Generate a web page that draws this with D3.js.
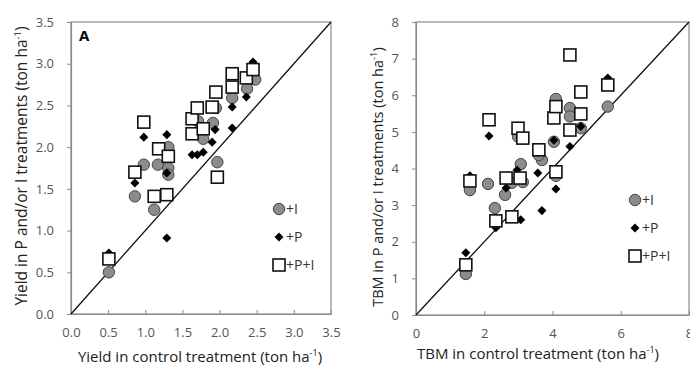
<!DOCTYPE html>
<html>
<head>
<meta charset="utf-8">
<script src="https://cdn.jsdelivr.net/npm/d3@7"></script>
<style>
  body { margin: 0; background: #fff; }
  svg { display: block; font-family: "Open Sans", sans-serif; }
</style>
</head>
<body>
<div id="chart"></div>
<script>
// Panel A: yield, [control, treatment]
const yieldI = [
  [0.51, 0.50], [0.86, 1.41], [0.98, 1.79], [1.12, 1.25], [1.17, 1.79], [1.31, 1.75],
  [1.31, 1.67], [1.31, 2.00], [1.71, 2.31], [1.78, 2.10], [1.91, 2.29], [1.95, 2.47],
  [1.97, 1.82], [2.17, 2.59], [2.37, 2.70], [2.48, 2.81]
];
const yieldP = [
  [0.51, 0.73], [0.86, 1.57], [0.98, 2.12], [1.29, 2.15], [1.29, 1.69], [1.29, 0.91],
  [1.63, 1.91], [1.70, 1.91], [1.78, 1.94], [1.90, 2.06], [1.94, 2.21], [2.17, 2.23],
  [2.17, 2.48], [2.36, 2.60], [2.45, 3.02]
];
const yieldPI = [
  [0.51, 0.66], [0.86, 1.70], [0.98, 2.30], [1.12, 1.41], [1.18, 1.98], [1.29, 1.43],
  [1.31, 1.89], [1.63, 2.34], [1.63, 2.16], [1.70, 2.47], [1.78, 2.22], [1.90, 2.48],
  [1.95, 2.66], [1.97, 1.64], [2.17, 2.88], [2.17, 2.72], [2.36, 2.83], [2.45, 2.93]
];

// Panel B: total biomass (TBM)
const tbmI = [
  [1.46, 1.12], [1.58, 3.41], [2.11, 3.58], [2.31, 2.92], [2.61, 3.28], [2.81, 3.61],
  [3.13, 3.63], [3.07, 4.12], [2.99, 4.87], [3.69, 4.23], [3.60, 4.37], [4.04, 4.73],
  [4.10, 3.80], [4.10, 5.90], [4.51, 5.65], [4.51, 5.42], [4.83, 5.10], [5.62, 5.69]
];
const tbmP = [
  [1.46, 1.70], [1.58, 3.80], [2.14, 4.89], [2.34, 2.38], [2.64, 3.47], [2.96, 3.96],
  [3.07, 2.60], [3.57, 3.88], [3.69, 2.85], [4.10, 3.44], [4.04, 4.77], [4.51, 4.60],
  [4.83, 5.15], [5.62, 6.47]
];
const tbmPI = [
  [1.46, 1.37], [1.58, 3.66], [2.14, 5.33], [2.34, 2.57], [2.64, 3.74], [2.81, 2.68],
  [2.99, 5.10], [3.05, 3.74], [3.13, 4.83], [3.60, 4.51], [4.10, 3.91], [4.04, 5.38],
  [4.10, 5.69], [4.51, 7.10], [4.51, 5.05], [4.83, 6.09], [4.83, 5.49], [5.62, 6.28]
];

const yieldTicks = [0, 0.5, 1, 1.5, 2, 2.5, 3, 3.5];
const tbmXTicks = [0, 2, 4, 6, 8];
const tbmYTicks = [0, 1, 2, 3, 4, 5, 6, 7, 8];
const legendLabels = ['+I', '+P', '+P+I'];

const W = 690, H = 366;
const svg = d3.select('#chart').append('svg').attr('width', W).attr('height', H);

function drawPanel(o) {
  const x = d3.scaleLinear().domain(o.domain).range([o.left, o.right]);
  const y = d3.scaleLinear().domain(o.domain).range([o.bottom, o.top]);
  const g = svg.append('g');

  // plot box
  g.append('rect')
   .attr('x', o.left).attr('y', o.top)
   .attr('width', o.right - o.left).attr('height', o.bottom - o.top)
   .attr('fill', 'none').attr('stroke', '#8a8a8a').attr('stroke-width', 1.2);

  const xAxis = g.append('g')
    .attr('transform', `translate(0,${o.bottom})`)
    .call(d3.axisBottom(x).tickValues(o.xTicks).tickFormat(o.fmt).tickSize(-4).tickPadding(14).tickSizeOuter(0));
  const yAxis = g.append('g')
    .attr('transform', `translate(${o.left},0)`)
    .call(d3.axisLeft(y).tickValues(o.yTicks).tickFormat(o.fmt).tickSize(4).tickPadding(13).tickSizeOuter(0));
  [xAxis, yAxis].forEach(a => {
    a.select('.domain').attr('stroke', '#8a8a8a').attr('stroke-width', 1.2);
    a.selectAll('line').attr('stroke', '#8a8a8a');
    a.selectAll('text').attr('fill', '#555').style('font-size', '13px').style('font-family', '"Open Sans", sans-serif');
  });

  // 1:1 line
  g.append('line')
   .attr('x1', x(0)).attr('y1', y(0))
   .attr('x2', x(o.domain[1])).attr('y2', y(o.domain[1]))
   .attr('stroke', '#111').attr('stroke-width', 1.3);

  const plot = g.append('g');
  plot.selectAll('circle').data(o.sI).join('circle')
    .attr('cx', d => x(d[0])).attr('cy', d => y(d[1])).attr('r', 5.7)
    .attr('fill', '#8c8c8c').attr('stroke', '#444').attr('stroke-width', 1);
  const dia = d3.symbol().type(d3.symbolDiamond2).size(52);
  plot.selectAll('path.dia').data(o.sP).join('path').attr('class', 'dia')
    .attr('d', dia).attr('transform', d => `translate(${x(d[0])},${y(d[1])})`)
    .attr('fill', '#000');
  plot.selectAll('rect').data(o.sPI).join('rect')
    .attr('x', d => x(d[0]) - 6).attr('y', d => y(d[1]) - 6)
    .attr('width', 12).attr('height', 12)
    .attr('fill', '#fff').attr('stroke', '#111').attr('stroke-width', 1.6);

  // legend
  const lg = g.append('g').attr('transform', `translate(${o.legend[0]},${o.legend[1]})`);
  lg.append('circle').attr('cx', 0).attr('cy', 0).attr('r', 5.7)
    .attr('fill', '#8c8c8c').attr('stroke', '#444');
  lg.append('path').attr('d', dia).attr('transform', 'translate(0,28)').attr('fill', '#000');
  lg.append('rect').attr('x', -6).attr('y', 50).attr('width', 12).attr('height', 12)
    .attr('fill', '#fff').attr('stroke', '#111').attr('stroke-width', 1.6);
  lg.selectAll('text').data(legendLabels).join('text')
    .attr('x', 7).attr('y', (d, i) => i * 28 + 5)
    .attr('fill', '#333').style('font-size', '14px')
    .text(d => d);

  // axis titles
  const xt = g.append('text')
    .attr('x', o.xTitleX).attr('y', o.xTitleY)
    .attr('text-anchor', 'middle').attr('fill', '#222').style('font-size', '15px');
  xt.append('tspan').text(o.xTitle + ' (ton ha');
  xt.append('tspan').attr('dy', -6).style('font-size', '9px').text('-1');
  xt.append('tspan').attr('dy', 6).text(')');

  const yt = g.append('text')
    .attr('transform', `translate(${o.yTitleX},${o.yTitleMid}) rotate(-90)`)
    .attr('text-anchor', 'middle').attr('fill', '#222').style('font-size', o.yTitleSize + 'px');
  yt.append('tspan').text(o.yTitle + ' (ton ha');
  yt.append('tspan').attr('dy', -6).style('font-size', '9.5px').text('-1');
  yt.append('tspan').attr('dy', 6).text(')');

  if (o.tag) {
    g.append('text').attr('x', o.left + 8).attr('y', o.top + 19)
      .attr('fill', '#000').style('font-size', '15px').style('font-weight', 'bold')
      .text(o.tag);
  }
}

drawPanel({
  domain: [0, 3.5], left: 71, right: 331, top: 22, bottom: 314,
  xTicks: yieldTicks, yTicks: yieldTicks, fmt: d3.format('.1f'),
  sI: yieldI, sP: yieldP, sPI: yieldPI, legend: [279, 209],
  xTitle: 'Yield in control treatment', yTitle: 'Yield in P and/or I treatments',
  xTitleX: 200, xTitleY: 362, yTitleX: 27, yTitleMid: 166, yTitleSize: 15.5, tag: 'A'
});

drawPanel({
  domain: [0, 8], left: 416, right: 689, top: 22, bottom: 315,
  xTicks: tbmXTicks, yTicks: tbmYTicks, fmt: d3.format('d'),
  sI: tbmI, sP: tbmP, sPI: tbmPI, legend: [635, 200],
  xTitle: 'TBM in control treatment', yTitle: 'TBM in P and/or I treatments',
  xTitleX: 538, xTitleY: 359, yTitleX: 383, yTitleMid: 177, yTitleSize: 14.5, tag: null
});
</script>
</body>
</html>
